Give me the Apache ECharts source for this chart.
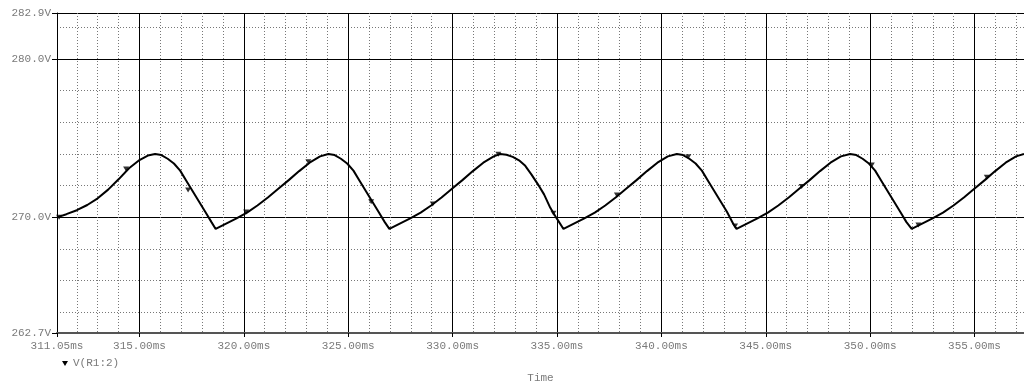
<!DOCTYPE html>
<html>
<head>
<meta charset="utf-8">
<script src="https://cdn.jsdelivr.net/npm/echarts@6/dist/echarts.min.js"></script>
<style>
html,body{margin:0;padding:0;background:#fff;}
#chart{width:1024px;height:381px;}
</style>
</head>
<body>
<div id="chart"></div>
<script>
// ---- Data (time in ms, voltage in V) ----
const seriesName = 'V(R1:2)';
const timeMs = [
  311.05, 311.5, 312.0, 312.5, 313.0, 313.5, 314.0, 314.5, 315.0, 315.4, 315.75,
  316.05, 316.35, 316.65, 316.95, 317.25, 317.55, 317.85, 318.15, 318.45, 318.65,
  319.15, 319.65, 320.15, 320.65, 321.15, 321.65, 322.15, 322.65, 323.15, 323.65, 324.05,
  324.35, 324.65, 324.95, 325.25, 325.55, 325.85, 326.15, 326.45, 326.75, 326.97,
  327.47, 327.97, 328.47, 328.97, 329.47, 329.97, 330.47, 330.97, 331.47, 331.97, 332.28,
  332.58, 332.88, 333.18, 333.48, 333.78, 334.08, 334.38, 334.68, 334.98, 335.31,
  335.81, 336.31, 336.81, 337.31, 337.81, 338.31, 338.81, 339.31, 339.81, 340.31, 340.74,
  341.04, 341.34, 341.64, 341.94, 342.24, 342.54, 342.84, 343.14, 343.44, 343.6,
  344.1, 344.6, 345.1, 345.6, 346.1, 346.6, 347.1, 347.6, 348.1, 348.6, 349.04,
  349.34, 349.64, 349.94, 350.24, 350.54, 350.84, 351.14, 351.44, 351.74, 351.99,
  352.49, 352.99, 353.49, 353.99, 354.49, 354.99, 355.49, 355.99, 356.49, 356.99, 357.37
];
const voltage = [
  270.0, 270.2, 270.45, 270.78, 271.2, 271.75, 272.4, 273.1, 273.62, 273.9, 274.0,
  273.93, 273.7, 273.4, 272.95, 272.3, 271.65, 271.0, 270.35, 269.7, 269.27,
  269.6, 269.93, 270.3, 270.75, 271.25, 271.8, 272.35, 272.92, 273.45, 273.85, 274.0,
  273.93, 273.7, 273.4, 272.95, 272.3, 271.65, 271.0, 270.35, 269.7, 269.27,
  269.6, 269.93, 270.3, 270.75, 271.25, 271.8, 272.35, 272.92, 273.45, 273.85, 274.0,
  273.95, 273.82, 273.6, 273.25, 272.7, 272.1, 271.45, 270.6, 269.95, 269.27,
  269.6, 269.93, 270.3, 270.75, 271.25, 271.8, 272.35, 272.92, 273.45, 273.85, 274.0,
  273.93, 273.7, 273.4, 272.95, 272.3, 271.65, 271.0, 270.35, 269.6, 269.27,
  269.6, 269.93, 270.3, 270.75, 271.25, 271.8, 272.35, 272.92, 273.45, 273.85, 274.0,
  273.93, 273.7, 273.4, 272.95, 272.3, 271.65, 271.0, 270.35, 269.7, 269.27,
  269.6, 269.93, 270.3, 270.75, 271.25, 271.8, 272.35, 272.92, 273.45, 273.85, 274.0
];
// marker symbols drawn on the trace
const markerTime = [311.15, 314.36, 317.33, 320.11, 323.09, 326.10, 329.05, 332.19, 334.83, 337.87, 341.29, 343.53, 346.72, 350.08, 352.31, 355.59];
const markerVolt = [270.0, 273.05, 271.73, 270.34, 273.51, 270.99, 270.84, 273.98, 270.26, 271.41, 273.83, 269.46, 271.94, 273.31, 269.52, 272.53];

// axis ranges and ticks
const xMin = 311.05, xMax = 357.37;
const yMin = 262.7, yMax = 282.9;
const xMajorTicks = [311.05, 315, 320, 325, 330, 335, 340, 345, 350, 355];
const xMinorTicks = [312,313,314,316,317,318,319,321,322,323,324,326,327,328,329,331,332,333,334,336,337,338,339,341,342,343,344,346,347,348,349,351,352,353,354,356,357];
const yMajorTicks = [262.7, 270, 280, 282.9];
const yMinorTicks = [264, 266, 268, 272, 274, 276, 278, 282];
const xAxisTitle = 'Time';

const FONT = '"Liberation Mono", "DejaVu Sans Mono", monospace';
const LABEL_COLOR = '#7a7a7a';
const triPath = 'path://M0,0 L10,0 L5,8 Z';

const lineData = timeMs.map((t, i) => [t, voltage[i]]);
const markData = markerTime.map((t, i) => [t, markerVolt[i]]);

const chart = echarts.init(document.getElementById('chart'), null, {renderer: 'canvas'});
chart.setOption({
  animation: false,
  backgroundColor: '#ffffff',
  grid: {left: 57, right: 0, top: 13, bottom: 48, containLabel: false, outerBoundsMode: 'none'},
  legend: {
    left: 57, top: 353,
    itemWidth: 6, itemHeight: 5, itemGap: 6,
    data: [{name: seriesName, icon: triPath}],
    textStyle: {fontFamily: FONT, fontSize: 11, color: LABEL_COLOR},
    itemStyle: {color: '#000'}
  },
  xAxis: [
    {
      type: 'value', min: xMin, max: xMax, position: 'bottom',
      name: xAxisTitle, nameLocation: 'middle', nameGap: 40,
      nameTextStyle: {fontFamily: FONT, fontSize: 11, color: LABEL_COLOR},
      axisLine: {show: true, onZero: false, lineStyle: {color: '#555', width: 2}},
      axisTick: {show: true, customValues: xMajorTicks, length: 4, lineStyle: {color: '#000'}},
      axisLabel: {show: true, customValues: xMajorTicks, margin: 8, fontFamily: FONT, fontSize: 11, color: LABEL_COLOR,
        formatter: v => Number(v).toFixed(2) + 'ms', showMinLabel: true, showMaxLabel: true, hideOverlap: false},
      splitLine: {show: true, lineStyle: {color: '#000', width: 1, type: 'solid'}}
    },
    {
      type: 'value', min: xMin, max: xMax, position: 'bottom',
      axisLine: {show: false}, axisLabel: {show: false},
      axisTick: {show: false, customValues: xMinorTicks},
      splitLine: {show: true, lineStyle: {color: '#777', width: 1, type: [1, 2]}}
    }
  ],
  yAxis: [
    {
      type: 'value', min: yMin, max: yMax, position: 'left',
      axisLine: {show: true, onZero: false, lineStyle: {color: '#000', width: 1}},
      axisTick: {show: true, customValues: yMajorTicks, length: 5, lineStyle: {color: '#000'}},
      axisLabel: {show: true, customValues: yMajorTicks, margin: 6, fontFamily: FONT, fontSize: 11, color: LABEL_COLOR,
        formatter: v => Number(v).toFixed(1) + 'V'},
      splitLine: {show: true, lineStyle: {color: '#000', width: 1, type: 'solid'}}
    },
    {
      type: 'value', min: yMin, max: yMax, position: 'left',
      axisLine: {show: false}, axisLabel: {show: false},
      axisTick: {show: false, customValues: yMinorTicks},
      splitLine: {show: true, lineStyle: {color: '#777', width: 1, type: [1, 2]}}
    }
  ],
  series: [
    {
      name: seriesName, type: 'line', xAxisIndex: 0, yAxisIndex: 0,
      data: lineData, showSymbol: false, smooth: false,
      lineStyle: {color: '#000', width: 2}, itemStyle: {color: '#000'}, z: 5
    },
    {
      name: seriesName, type: 'scatter', xAxisIndex: 0, yAxisIndex: 0,
      data: markData, symbol: triPath, symbolSize: [6, 5],
      itemStyle: {color: '#000'}, z: 6
    }
  ]
});
</script>
</body>
</html>
